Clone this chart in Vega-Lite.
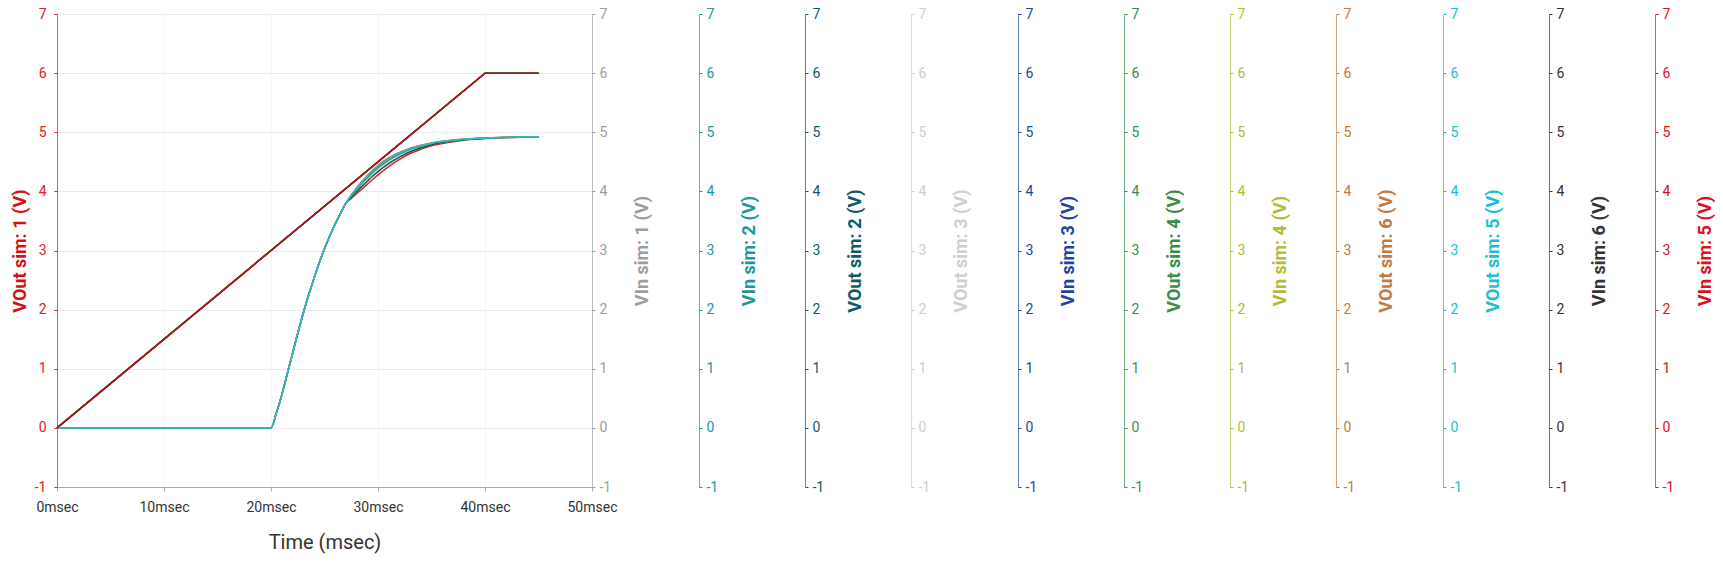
{
  "$schema": "https://vega.github.io/schema/vega-lite/v6.json",
  "width": 535,
  "height": 473,
  "autosize": {"type": "none"},
  "padding": {"left": 57, "top": 14, "right": 1131, "bottom": 75},
  "config": {
    "font": "Roboto",
    "view": {"stroke": "#cccccc"},
    "axis": {"labelFont": "Roboto", "titleFont": "Roboto"},
    "axisY": {"labelFontSize": 14, "tickSize": 3, "titleFontSize": 18, "titleFontWeight": "bold", "domainOpacity": 0.7, "grid": false, "labelFlush": false, "labelExpr": "'' + datum.value"},
    "axisRight": {"labelPadding": 4, "titleAngle": 270, "titlePadding": 41},
    "axisLeft": {"labelPadding": 8, "titlePadding": 5}
  },
  "datasets": {
    "vout": [
      {"t": 0, "o1": 0, "o2": 0, "o3": 0, "o4": 0, "o5": 0, "o6": 0},
      {"t": 20, "o1": 0, "o2": 0, "o3": 0, "o4": 0, "o5": 0, "o6": 0},
      {"t": 20.5, "o1": 0.25, "o2": 0.25, "o3": 0.25, "o4": 0.25, "o5": 0.25, "o6": 0.25},
      {"t": 21, "o1": 0.55, "o2": 0.55, "o3": 0.55, "o4": 0.55, "o5": 0.55, "o6": 0.55},
      {"t": 21.5, "o1": 0.9, "o2": 0.9, "o3": 0.9, "o4": 0.9, "o5": 0.9, "o6": 0.9},
      {"t": 22, "o1": 1.25, "o2": 1.25, "o3": 1.25, "o4": 1.25, "o5": 1.25, "o6": 1.25},
      {"t": 22.5, "o1": 1.6, "o2": 1.6, "o3": 1.6, "o4": 1.6, "o5": 1.6, "o6": 1.6},
      {"t": 23, "o1": 1.93, "o2": 1.93, "o3": 1.93, "o4": 1.93, "o5": 1.93, "o6": 1.93},
      {"t": 23.5, "o1": 2.24, "o2": 2.24, "o3": 2.24, "o4": 2.24, "o5": 2.24, "o6": 2.24},
      {"t": 24, "o1": 2.52, "o2": 2.52, "o3": 2.52, "o4": 2.52, "o5": 2.52, "o6": 2.52},
      {"t": 24.5, "o1": 2.79, "o2": 2.79, "o3": 2.79, "o4": 2.79, "o5": 2.79, "o6": 2.79},
      {"t": 25, "o1": 3.03, "o2": 3.03, "o3": 3.03, "o4": 3.03, "o5": 3.03, "o6": 3.03},
      {"t": 25.5, "o1": 3.25, "o2": 3.25, "o3": 3.25, "o4": 3.25, "o5": 3.25, "o6": 3.25},
      {"t": 26, "o1": 3.45, "o2": 3.45, "o3": 3.45, "o4": 3.45, "o5": 3.45, "o6": 3.45},
      {"t": 26.5, "o1": 3.63, "o2": 3.63, "o3": 3.63, "o4": 3.63, "o5": 3.63, "o6": 3.63},
      {"t": 27, "o1": 3.8, "o2": 3.8, "o3": 3.8, "o4": 3.8, "o5": 3.8, "o6": 3.8},
      {"t": 27.5, "o1": 3.88, "o2": 3.9, "o3": 3.91, "o4": 3.925, "o5": 3.935, "o6": 3.94},
      {"t": 28, "o1": 3.96, "o2": 3.995, "o3": 4.015, "o4": 4.035, "o5": 4.05, "o6": 4.06},
      {"t": 28.5, "o1": 4.04, "o2": 4.085, "o3": 4.11, "o4": 4.14, "o5": 4.16, "o6": 4.17},
      {"t": 29, "o1": 4.12, "o2": 4.17, "o3": 4.2, "o4": 4.23, "o5": 4.255, "o6": 4.27},
      {"t": 29.5, "o1": 4.2, "o2": 4.255, "o3": 4.29, "o4": 4.32, "o5": 4.345, "o6": 4.36},
      {"t": 30, "o1": 4.28, "o2": 4.335, "o3": 4.37, "o4": 4.4, "o5": 4.425, "o6": 4.44},
      {"t": 31, "o1": 4.42, "o2": 4.47, "o3": 4.5, "o4": 4.53, "o5": 4.555, "o6": 4.57},
      {"t": 32, "o1": 4.54, "o2": 4.58, "o3": 4.605, "o4": 4.63, "o5": 4.65, "o6": 4.66},
      {"t": 33, "o1": 4.64, "o2": 4.67, "o3": 4.69, "o4": 4.71, "o5": 4.72, "o6": 4.73},
      {"t": 34, "o1": 4.71, "o2": 4.735, "o3": 4.75, "o4": 4.76, "o5": 4.773, "o6": 4.78},
      {"t": 35, "o1": 4.77, "o2": 4.79, "o3": 4.8, "o4": 4.81, "o5": 4.815, "o6": 4.82},
      {"t": 36, "o1": 4.81, "o2": 4.825, "o3": 4.83, "o4": 4.84, "o5": 4.846, "o6": 4.85},
      {"t": 37, "o1": 4.84, "o2": 4.85, "o3": 4.857, "o4": 4.862, "o5": 4.867, "o6": 4.87},
      {"t": 38, "o1": 4.865, "o2": 4.87, "o3": 4.876, "o4": 4.88, "o5": 4.883, "o6": 4.885},
      {"t": 39, "o1": 4.88, "o2": 4.885, "o3": 4.888, "o4": 4.891, "o5": 4.894, "o6": 4.895},
      {"t": 40, "o1": 4.895, "o2": 4.9, "o3": 4.9, "o4": 4.902, "o5": 4.904, "o6": 4.905},
      {"t": 42, "o1": 4.91, "o2": 4.912, "o3": 4.913, "o4": 4.914, "o5": 4.915, "o6": 4.915},
      {"t": 45, "o1": 4.92, "o2": 4.922, "o3": 4.923, "o4": 4.924, "o5": 4.925, "o6": 4.925}
    ],
    "vin": [
      {"t": 0, "i1": 0, "i2": 0, "i3": 0, "i4": 0, "i5": 0, "i6": 0},
      {"t": 40, "i1": 6, "i2": 6, "i3": 6, "i4": 6, "i5": 6, "i6": 6},
      {"t": 45, "i1": 6, "i2": 6, "i3": 6, "i4": 6, "i5": 6, "i6": 6}
    ]
  },
  "encoding": {
    "x": {
      "field": "t", "type": "quantitative",
      "scale": {"domain": [0, 50], "nice": false, "zero": false},
      "axis": {"values": [0, 10, 20, 30, 40, 50], "labelExpr": "datum.value + 'msec'", "labelFlush": false, "labelFontSize": 14, "labelColor": "#333333", "labelPadding": 9, "tickSize": 4, "tickColor": "#aaaaaa", "domainColor": "#aaaaaa", "grid": true, "gridColor": "#f7f7f7", "title": "Time (msec)", "titleFontSize": 20, "titleFontWeight": "normal", "titleColor": "#333333", "titlePadding": 18}
    }
  },
  "resolve": {"scale": {"y": "independent"}, "axis": {"y": "independent"}},
  "layer": [
    {
      "data": {"name": "vout"},
      "mark": {"type": "line", "color": "#e0201f", "strokeWidth": 1.5, "interpolate": "monotone"},
      "encoding": {"y": {"field": "o1", "type": "quantitative", "scale": {"domain": [-1, 7], "nice": false, "zero": false},
        "axis": {"orient": "left", "values": [-1, 0, 1, 2, 3, 4, 5, 6, 7], "labelColor": "#e0201f", "tickColor": "#e0201f", "domainColor": "#e0201f", "title": "VOut sim: 1 (V)", "titleColor": "#d50f14", "grid": true, "gridColor": "#ebebeb"}}}
    },
    {
      "data": {"name": "vout"},
      "mark": {"type": "line", "color": "#cfcfcf", "strokeWidth": 1.5, "interpolate": "monotone"},
      "encoding": {"y": {"field": "o3", "type": "quantitative", "scale": {"domain": [-1, 7], "nice": false, "zero": false},
        "axis": {"orient": "right", "offset": 319, "values": [-1, 0, 1, 2, 3, 4, 5, 6, 7], "labelColor": "#cfcfcf", "tickColor": "#cfcfcf", "domainColor": "#cfcfcf", "title": "VOut sim: 3 (V)", "titleColor": "#cfcfcf"}}}
    },
    {
      "data": {"name": "vout"},
      "mark": {"type": "line", "color": "#0f5a68", "strokeWidth": 1.5, "interpolate": "monotone"},
      "encoding": {"y": {"field": "o2", "type": "quantitative", "scale": {"domain": [-1, 7], "nice": false, "zero": false},
        "axis": {"orient": "right", "offset": 213, "values": [-1, 0, 1, 2, 3, 4, 5, 6, 7], "labelColor": "#0f5a68", "tickColor": "#0f5a68", "domainColor": "#0f5a68", "title": "VOut sim: 2 (V)", "titleColor": "#0f5a68"}}}
    },
    {
      "data": {"name": "vout"},
      "mark": {"type": "line", "color": "#3d8b4a", "strokeWidth": 1.5, "interpolate": "monotone"},
      "encoding": {"y": {"field": "o4", "type": "quantitative", "scale": {"domain": [-1, 7], "nice": false, "zero": false},
        "axis": {"orient": "right", "offset": 532, "values": [-1, 0, 1, 2, 3, 4, 5, 6, 7], "labelColor": "#3d8b4a", "tickColor": "#3d8b4a", "domainColor": "#3d8b4a", "title": "VOut sim: 4 (V)", "titleColor": "#3d8b4a"}}}
    },
    {
      "data": {"name": "vout"},
      "mark": {"type": "line", "color": "#c27b3f", "strokeWidth": 1.5, "interpolate": "monotone"},
      "encoding": {"y": {"field": "o6", "type": "quantitative", "scale": {"domain": [-1, 7], "nice": false, "zero": false},
        "axis": {"orient": "right", "offset": 744, "values": [-1, 0, 1, 2, 3, 4, 5, 6, 7], "labelColor": "#c27b3f", "tickColor": "#c27b3f", "domainColor": "#c27b3f", "title": "VOut sim: 6 (V)", "titleColor": "#c27b3f"}}}
    },
    {
      "data": {"name": "vout"},
      "mark": {"type": "line", "color": "#1bbfd3", "strokeWidth": 1.5, "interpolate": "monotone"},
      "encoding": {"y": {"field": "o5", "type": "quantitative", "scale": {"domain": [-1, 7], "nice": false, "zero": false},
        "axis": {"orient": "right", "offset": 851, "values": [-1, 0, 1, 2, 3, 4, 5, 6, 7], "labelColor": "#1bbfd3", "tickColor": "#1bbfd3", "domainColor": "#1bbfd3", "title": "VOut sim: 5 (V)", "titleColor": "#1bbfd3"}}}
    },
    {
      "data": {"name": "vin"},
      "mark": {"type": "line", "color": "#9e9e9e", "strokeWidth": 1.5},
      "encoding": {"y": {"field": "i1", "type": "quantitative", "scale": {"domain": [-1, 7], "nice": false, "zero": false},
        "axis": {"orient": "right", "offset": 0, "values": [-1, 0, 1, 2, 3, 4, 5, 6, 7], "labelColor": "#9e9e9e", "tickColor": "#9e9e9e", "domainColor": "#9e9e9e", "title": "VIn sim: 1 (V)", "titleColor": "#9e9e9e"}}}
    },
    {
      "data": {"name": "vin"},
      "mark": {"type": "line", "color": "#1d96a3", "strokeWidth": 1.5},
      "encoding": {"y": {"field": "i2", "type": "quantitative", "scale": {"domain": [-1, 7], "nice": false, "zero": false},
        "axis": {"orient": "right", "offset": 107, "values": [-1, 0, 1, 2, 3, 4, 5, 6, 7], "labelColor": "#1d96a3", "tickColor": "#1d96a3", "domainColor": "#1d96a3", "title": "VIn sim: 2 (V)", "titleColor": "#1d96a3"}}}
    },
    {
      "data": {"name": "vin"},
      "mark": {"type": "line", "color": "#1c46a6", "strokeWidth": 1.5},
      "encoding": {"y": {"field": "i3", "type": "quantitative", "scale": {"domain": [-1, 7], "nice": false, "zero": false},
        "axis": {"orient": "right", "offset": 426, "values": [-1, 0, 1, 2, 3, 4, 5, 6, 7], "labelColor": "#1c46a6", "tickColor": "#1c46a6", "domainColor": "#1c46a6", "title": "VIn sim: 3 (V)", "titleColor": "#1c46a6"}}}
    },
    {
      "data": {"name": "vin"},
      "mark": {"type": "line", "color": "#b3bb37", "strokeWidth": 1.5},
      "encoding": {"y": {"field": "i4", "type": "quantitative", "scale": {"domain": [-1, 7], "nice": false, "zero": false},
        "axis": {"orient": "right", "offset": 638, "values": [-1, 0, 1, 2, 3, 4, 5, 6, 7], "labelColor": "#b3bb37", "tickColor": "#b3bb37", "domainColor": "#b3bb37", "title": "VIn sim: 4 (V)", "titleColor": "#b3bb37"}}}
    },
    {
      "data": {"name": "vin"},
      "mark": {"type": "line", "color": "#333333", "strokeWidth": 1.5},
      "encoding": {"y": {"field": "i6", "type": "quantitative", "scale": {"domain": [-1, 7], "nice": false, "zero": false},
        "axis": {"orient": "right", "offset": 957, "values": [-1, 0, 1, 2, 3, 4, 5, 6, 7], "labelColor": "#333333", "tickColor": "#333333", "domainColor": "#333333", "title": "VIn sim: 6 (V)", "titleColor": "#333333"}}}
    },
    {
      "data": {"name": "vin"},
      "mark": {"type": "line", "color": "#b81216", "strokeWidth": 1.5},
      "encoding": {"y": {"field": "i5", "type": "quantitative", "scale": {"domain": [-1, 7], "nice": false, "zero": false},
        "axis": {"orient": "right", "offset": 1063, "values": [-1, 0, 1, 2, 3, 4, 5, 6, 7], "labelColor": "#dd0f1a", "tickColor": "#dd0f1a", "domainColor": "#dd0f1a", "title": "VIn sim: 5 (V)", "titleColor": "#dd0f1a"}}}
    }
  ]
}
